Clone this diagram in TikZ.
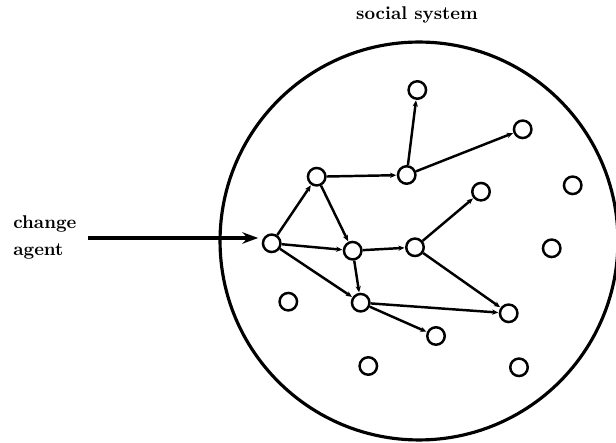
\documentclass[tikz,border=0pt]{standalone}
\usetikzlibrary{arrows.meta}
\begin{document}
\begin{tikzpicture}[x=0.02cm,y=0.02cm,
  person/.style={circle,draw,line width=1.4pt,fill=white,minimum size=0.35cm,inner sep=0pt},
  link/.style={line width=1.4pt,-{Stealth[length=3.5pt,width=3pt]},shorten >=0.3pt},
  caption/.style={font=\bfseries\fontsize{10.5}{15.4}\selectfont,align=left,inner sep=0pt}]
  \useasboundingbox (0,0) rectangle (616,443);
  % the social system
  \draw[line width=1.8pt] (419,202) circle (3.98cm);
  \node[caption] (title) at (417,428) {social system};
  % members reached by the change agent
  \node[person] (A) at (271.7,199.7) {};
  \node[person] (B) at (316.7,266.3) {};
  \node[person] (C) at (406.7,268) {};
  \node[person] (D) at (417.3,353) {};
  \node[person] (E) at (522.7,313.7) {};
  \node[person] (F) at (352.7,192.3) {};
  \node[person] (G) at (415,195.7) {};
  \node[person] (H) at (481,251.3) {};
  \node[person] (I) at (360.7,140.3) {};
  \node[person] (J) at (508.7,129.7) {};
  \node[person] (K) at (436,107) {};
  % members not reached
  \foreach \p [count=\i] in {(572.7,257.7),(551.7,194.7),(288.3,141.3),(368.3,77),(519,75.7)}
    \node[person] (free\i) at \p {};
  \foreach \a/\b in {A/B,A/F,A/I,B/C,B/F,C/D,C/E,F/G,F/I,G/H,G/J,I/J,I/K}
    \draw[link] (\a) -- (\b);
  % change agent
  \node[caption,anchor=west] (agent) at (13,206) {change\\agent};
  \coordinate (start) at (88,205);
  \draw[line width=1.8pt,-{Stealth[length=9pt,width=6.5pt]},shorten >=2pt] (start) -- (start -| A.west);
\end{tikzpicture}
\end{document}
